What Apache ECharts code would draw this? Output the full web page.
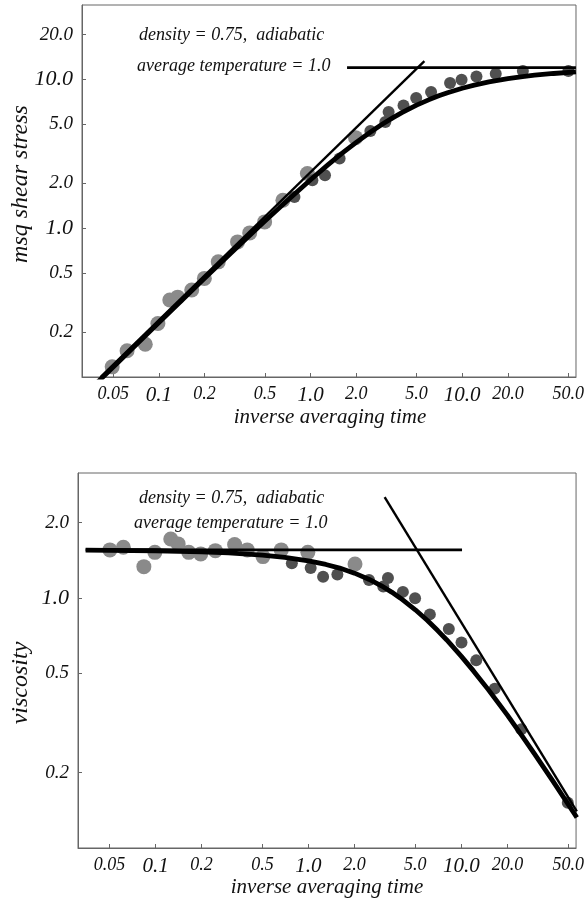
<!DOCTYPE html>
<html><head><meta charset="utf-8">
<script src="https://cdn.jsdelivr.net/npm/echarts@6/dist/echarts.min.js"></script>
<style>html,body{margin:0;padding:0;background:#fff}#c{width:587px;height:905px}</style>
</head><body><div id="c"></div>
<script>
// ---- tick labels ----
const xTickValues = [0.05, 0.1, 0.2, 0.5, 1, 2, 5, 10, 20, 50];
const xTickLabels = ['0.05', '0.1', '0.2', '0.5', '1.0', '2.0', '5.0', '10.0', '20.0', '50.0'];
const yTopTickValues = [0.2, 0.5, 1, 2, 5, 10, 20];
const yTopTickLabels = ['0.2', '0.5', '1.0', '2.0', '5.0', '10.0', '20.0'];
const yBotTickValues = [0.2, 0.5, 1, 2];
const yBotTickLabels = ['0.2', '0.5', '1.0', '2.0'];
const bigLabels = ['0.1', '1.0', '10.0'];

// ---- top panel: msq shear stress ----
const topLightX = [0.0492, 0.0617, 0.0813, 0.0985, 0.118, 0.133, 0.1646, 0.1994, 0.2463, 0.330, 0.397, 0.498, 0.657, 0.953, 1.979];
const topLightY = [0.117, 0.150, 0.166, 0.229, 0.329, 0.344, 0.384, 0.460, 0.594, 0.809, 0.930, 1.102, 1.541, 2.33, 4.06];
const topDarkX = [0.783, 1.028, 1.245, 1.554, 2.48, 3.11, 3.27, 4.10, 4.97, 6.23, 8.31, 9.90, 12.41, 16.63, 25.1, 50.1];
const topDarkY = [1.62, 2.10, 2.27, 2.94, 4.50, 5.17, 6.03, 6.69, 7.49, 8.22, 9.45, 9.95, 10.47, 10.92, 11.37, 11.37];
const topCurveX = [0.03, 0.05, 0.1, 0.2, 0.3, 0.5, 0.7, 1, 1.3, 1.6, 2, 2.5, 3, 3.5, 4, 5, 6, 7, 8, 10, 12, 15, 20, 25, 30, 40, 56.2];
const topCurveY = [0.0703, 0.1169, 0.2326, 0.4605, 0.684, 1.117, 1.531, 2.117, 2.662, 3.166, 3.776, 4.449, 5.032, 5.539, 5.980, 6.712, 7.290, 7.755, 8.135, 8.722, 9.156, 9.619, 10.125, 10.447, 10.669, 10.959, 11.218];
const topSlopeX = [0.0412, 5.63];
const topSlopeY = [0.1, 13.27];
const topFlatX = [1.74, 56.2];
const topFlatY = [12.0, 12.0];

// ---- bottom panel: viscosity ----
const botLightX = [0.0503, 0.0616, 0.0839, 0.0990, 0.1258, 0.1406, 0.1649, 0.1975, 0.2462, 0.329, 0.398, 0.504, 0.664, 0.991, 2.016];
const botLightY = [1.557, 1.595, 1.335, 1.523, 1.723, 1.646, 1.523, 1.501, 1.547, 1.635, 1.557, 1.464, 1.557, 1.523, 1.368];
const botDarkX = [0.779, 1.034, 1.247, 1.546, 2.489, 3.085, 3.311, 4.147, 4.981, 6.221, 8.277, 10.02, 12.51, 16.52, 24.66, 49.66];
const botDarkY = [1.376, 1.319, 1.217, 1.242, 1.181, 1.112, 1.203, 1.058, 0.998, 0.860, 0.751, 0.664, 0.563, 0.434, 0.2986, 0.1518];
const botCurveX = [0.0349, 0.05, 0.1, 0.2, 0.3, 0.5, 0.7, 1, 1.3, 1.6, 2, 2.5, 3, 3.5, 4, 5, 6, 7, 8, 10, 12, 15, 20, 25, 30, 40, 56.9];
const botCurveY = [1.555, 1.552, 1.545, 1.530, 1.514, 1.484, 1.454, 1.408, 1.362, 1.317, 1.257, 1.186, 1.119, 1.056, 0.998, 0.897, 0.813, 0.741, 0.681, 0.584, 0.511, 0.430, 0.340, 0.2805, 0.2385, 0.1838, 0.1325];
const botSlopeX = [3.15, 56.9];
const botSlopeY = [2.53, 0.14];
const botFlatX = [0.0349, 10.1];
const botFlatY = [1.557, 1.557];

const annot1 = 'density = 0.75,  adiabatic';
const annot2 = 'average temperature = 1.0';
const xTitle = 'inverse averaging time';
const yTopTitle = 'msq shear stress';
const yBotTitle = 'viscosity';

const FONT = '"Liberation Serif", "Times New Roman", serif';
const L = Math.log10;
const pairs = (xs, ys) => xs.map((x, i) => [L(x), L(ys[i])]);

function makeFormatter(vals, labels) {
  return function (v) {
    for (let i = 0; i < vals.length; i++) {
      if (Math.abs(L(vals[i]) - v) < 1e-6) {
        const t = labels[i];
        return bigLabels.indexOf(t) >= 0 ? '{b|' + t + '}' : '{s|' + t + '}';
      }
    }
    return '';
  };
}
function richSet(small, big) {
  return {
    s: { fontFamily: FONT, fontStyle: 'italic', fontSize: small, color: '#111' },
    b: { fontFamily: FONT, fontStyle: 'italic', fontSize: big, color: '#111' }
  };
}
function xAxisDef(gi) {
  return {
    type: 'value', gridIndex: gi, min: -1.507, max: 1.75,
    splitLine: { show: false },
    axisLine: { show: true, onZero: false, lineStyle: { color: '#666', width: 1 } },
    axisTick: { show: true, inside: true, length: 4, lineStyle: { color: '#666' }, customValues: xTickValues.map(L) },
    axisLabel: { show: true, margin: 8, customValues: xTickValues.map(L), formatter: makeFormatter(xTickValues, xTickLabels), rich: richSet(18, 21) }
  };
}
function yAxisDef(gi, mn, mx, vals, labs) {
  return {
    type: 'value', gridIndex: gi, min: mn, max: mx,
    splitLine: { show: false },
    axisLine: { show: true, onZero: false, lineStyle: { color: '#666', width: 1 } },
    axisTick: { show: true, inside: true, length: 4, lineStyle: { color: '#666' }, customValues: vals.map(L) },
    axisLabel: { show: true, margin: 9, customValues: vals.map(L), formatter: makeFormatter(vals, labs), rich: richSet(19, 22) }
  };
}
function lineSeries(gi, data, width, z) {
  return { type: 'line', xAxisIndex: gi, yAxisIndex: gi, data: data, showSymbol: false, symbol: 'none',
    smooth: false, clip: true, z: z,
    lineStyle: { color: '#000', width: width, join: 'round', cap: 'butt' }, silent: true };
}
function scatterSeries(gi, data, size, color) {
  return { type: 'scatter', xAxisIndex: gi, yAxisIndex: gi, data: data, symbolSize: size, z: 2,
    itemStyle: { color: color, opacity: 1 }, silent: true };
}
function txt(x, y, s, size, align, rot) {
  return { type: 'text', x: x, y: y, rotation: rot || 0, silent: true,
    style: { text: s, fontFamily: FONT, fontStyle: 'italic', fontSize: size, fill: '#111', align: align || 'left', verticalAlign: 'middle' } };
}

const chart = echarts.init(document.getElementById('c'), null, { renderer: 'canvas' });
chart.setOption({
  animation: false,
  backgroundColor: '#fff',
  grid: [
    { left: 82, top: 5, width: 496, height: 372, show: true, borderColor: '#666', borderWidth: 1, containLabel: false },
    { left: 78, top: 473, width: 500, height: 375, show: true, borderColor: '#666', borderWidth: 1, containLabel: false }
  ],
  xAxis: [xAxisDef(0), xAxisDef(1)],
  yAxis: [yAxisDef(0, -1, 1.5, yTopTickValues, yTopTickLabels), yAxisDef(1, -1, 0.5, yBotTickValues, yBotTickLabels)],
  series: [
    scatterSeries(0, pairs(topLightX, topLightY), 15, '#8a8a8a'),
    scatterSeries(0, pairs(topDarkX, topDarkY), 12, '#505050'),
    lineSeries(0, pairs(topCurveX, topCurveY), 4.8, 5),
    lineSeries(0, pairs(topSlopeX, topSlopeY), 2.4, 4),
    lineSeries(0, pairs(topFlatX, topFlatY), 2.8, 4),
    scatterSeries(1, pairs(botLightX, botLightY), 15, '#8a8a8a'),
    scatterSeries(1, pairs(botDarkX, botDarkY), 12, '#505050'),
    lineSeries(1, pairs(botCurveX, botCurveY), 4.8, 5),
    lineSeries(1, pairs(botSlopeX, botSlopeY), 2.4, 4),
    lineSeries(1, pairs(botFlatX, botFlatY), 2.8, 4)
  ],
  graphic: [
    txt(139, 35, annot1, 18),
    txt(137, 66, annot2, 18),
    txt(139, 498, annot1, 18),
    txt(134, 523, annot2, 18),
    txt(330, 417, xTitle, 21, 'center'),
    txt(327, 887, xTitle, 21, 'center'),
    txt(21, 184, yTopTitle, 24, 'center', Math.PI / 2),
    txt(21, 683, yBotTitle, 24, 'center', Math.PI / 2)
  ]
});
</script></body></html>
